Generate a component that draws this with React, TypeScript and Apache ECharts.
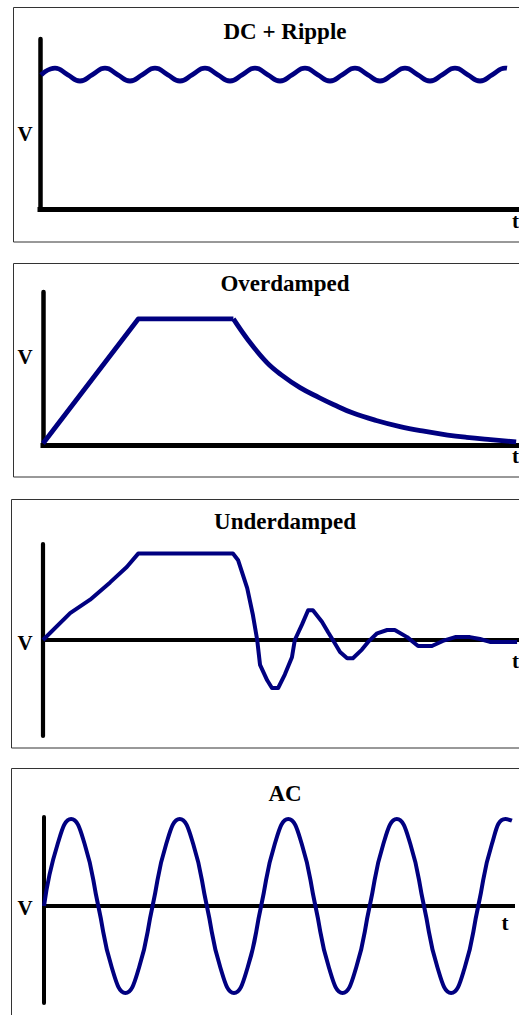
import React, { useEffect, useRef } from "react";
import * as echarts from "echarts";

// ---------- DATA ----------
const titles = ["DC + Ripple", "Overdamped", "Underdamped", "AC"];

// Panel 1: DC + ripple (time in ripple periods, V on 0..10)
const rippleT = [
  0.02, 0.3, 0.55, 0.8, 1.05, 1.3, 1.55, 1.8, 2.05, 2.3, 2.55, 2.8, 3.05, 3.3, 3.55, 3.8,
  4.05, 4.3, 4.55, 4.8, 5.05, 5.3, 5.55, 5.8, 6.05, 6.3, 6.55, 6.8, 7.05, 7.3, 7.55, 7.8,
  8.05, 8.3, 8.55, 8.8, 9.05, 9.3, 9.34,
];
const rippleV = [
  7.88, 8.29, 7.91, 7.53, 7.91, 8.29, 7.91, 7.53, 7.91, 8.29, 7.91, 7.53, 7.91, 8.29, 7.91, 7.53,
  7.91, 8.29, 7.91, 7.53, 7.91, 8.29, 7.91, 7.53, 7.91, 8.29, 7.91, 7.53, 7.91, 8.29, 7.91, 7.53,
  7.91, 8.29, 7.91, 7.53, 7.91, 8.29, 8.28,
];

// Panel 2: overdamped (time 0..100, V 0..10) — straight ramp + plateau, then decay
const overRampT = [0, 20, 40];
const overRampV = [0.1, 8.24, 8.24];
const overDecayT = [40, 43, 47, 50, 54, 58, 61, 65, 70, 75, 80, 85, 89, 94, 99.4];
const overDecayV = [8.24, 6.9, 5.4, 4.6, 3.75, 3.1, 2.65, 2.1, 1.6, 1.2, 0.9, 0.65, 0.5, 0.35, 0.2];

// Panel 3: underdamped (time 0..100, V -10..10)
const underT = [
  0, 5.7, 9.9, 14.1, 17.6, 20, 39.9, 41, 42.9, 44.1, 45, 45.6, 47.1, 48.1, 49.4, 50.8, 52.3,
  52.9, 54.4, 55.7, 56.7, 58.6, 59.9, 60.9, 62.4, 63.9, 65.1, 67, 68.3, 70.2, 72.3, 73.9,
  76.5, 78.8, 81.7, 84, 86.6, 89.7, 91.8, 93.9, 99.6,
];
const underV = [
  0, 2.8, 4.2, 6.0, 7.6, 9.0, 9.0, 8.3, 5.4, 2.6, 0, -2.6, -4.2, -5.0, -5.0, -3.6, -1.8,
  0, 1.6, 3.1, 3.1, 1.9, 0.8, 0, -1.25, -1.9, -1.9, -1.0, -0.2, 0.7, 1.04, 1.04,
  0.3, -0.63, -0.63, -0.1, 0.3, 0.3, 0.1, -0.2, -0.2,
];

// Panel 4: AC (time in periods, V in amplitudes)
const acT = [
  0, 0.125, 0.25, 0.375, 0.5, 0.625, 0.75, 0.875, 1, 1.125, 1.25, 1.375, 1.5, 1.625, 1.75, 1.875,
  2, 2.125, 2.25, 2.375, 2.5, 2.625, 2.75, 2.875, 3, 3.125, 3.25, 3.375, 3.5, 3.625, 3.75, 3.875,
  4, 4.125, 4.25, 4.31,
];
const acV = [
  0, 0.71, 1, 0.71, 0, -0.71, -1, -0.71, 0, 0.71, 1, 0.71, 0, -0.71, -1, -0.71,
  0, 0.71, 1, 0.71, 0, -0.71, -1, -0.71, 0, 0.71, 1, 0.71, 0, -0.71, -1, -0.71,
  0, 0.71, 1, 0.98,
];

const axisLabelV = "V";
const axisLabelT = "t";

// ---------- CHART ----------
const SERIF = "'Liberation Serif', 'Times New Roman', serif";
const NAVY = "#000080";

function zip(a: number[], b: number[]) {
  return a.map((v, i) => [v, b[i]]);
}

export default function App() {
  const ref = useRef<HTMLDivElement>(null);

  useEffect(() => {
    if (!ref.current) return;
    const chart = echarts.init(ref.current, undefined, { renderer: "svg" });

    const grids = [
      { left: 40, top: 39, width: 479, height: 170 },
      { left: 43, top: 292, width: 476, height: 153 },
      { left: 43, top: 544, width: 476, height: 192 },
      { left: 44, top: 817, width: 469, height: 186 },
    ];
    const xRanges = [
      [0, 9.58],
      [0, 100],
      [0, 100],
      [0, 4.32],
    ];
    const yRanges = [
      [0, 10],
      [0, 10],
      [-10, 10],
      [-1.115, 1.023],
    ];
    const xWidths = [5, 5, 4, 4];
    const yWidths = [4.5, 4.5, 4.2, 4];
    const lineWidths = [4.8, 4.8, 4, 4];

    const xAxis = grids.map((_, i) => ({
      type: "value",
      gridIndex: i,
      min: xRanges[i][0],
      max: xRanges[i][1],
      axisLine: { show: true, onZero: true, lineStyle: { color: "#000", width: xWidths[i], cap: "square" } },
      axisTick: { show: false },
      axisLabel: { show: false },
      splitLine: { show: false },
    }));
    const yAxis = grids.map((_, i) => ({
      type: "value",
      gridIndex: i,
      min: yRanges[i][0],
      max: yRanges[i][1],
      axisLine: { show: true, onZero: false, lineStyle: { color: "#000", width: yWidths[i] } },
      axisTick: { show: false },
      axisLabel: { show: false },
      splitLine: { show: false },
    }));

    const mk = (i: number, data: number[][], smooth: boolean | number) => ({
      type: "line",
      xAxisIndex: i,
      yAxisIndex: i,
      data,
      showSymbol: false,
      smooth,
      clip: false,
      lineStyle: { color: NAVY, width: lineWidths[i], join: "round" },
    });

    const series = [
      mk(0, zip(rippleT, rippleV), true),
      mk(1, zip(overRampT, overRampV), false),
      mk(1, zip(overDecayT, overDecayV), 0.4),
      mk(2, zip(underT, underV), false),
      mk(3, zip(acT, acV), true),
    ];

    const boxes = [
      { x: 13.5, y: 7.5, h: 234.5 },
      { x: 13.5, y: 263.5, h: 213.5 },
      { x: 11.5, y: 499.5, h: 248.5 },
      { x: 11.5, y: 768.5, h: 300 },
    ];
    const titleY = [31.5, 283, 521.5, 793.5];
    const vY = [133.5, 356.5, 642.5, 907.5];
    const tPos = [
      [515.5, 221],
      [515.5, 456],
      [515.5, 661],
      [505, 923],
    ];

    const graphic: any[] = [];
    boxes.forEach((b, i) => {
      graphic.push({
        type: "rect",
        shape: { x: b.x, y: b.y, width: 540, height: b.h },
        style: { fill: "none", stroke: "#333", lineWidth: 1 },
        z: -1,
      });
      graphic.push({
        type: "text",
        x: 285,
        y: titleY[i],
        style: {
          text: titles[i],
          font: `bold 23px ${SERIF}`,
          fill: "#000",
          align: "center",
          verticalAlign: "middle",
        },
      });
      graphic.push({
        type: "text",
        x: 25,
        y: vY[i],
        style: {
          text: axisLabelV,
          font: `bold 21px ${SERIF}`,
          fill: "#000",
          align: "center",
          verticalAlign: "middle",
        },
      });
      graphic.push({
        type: "text",
        x: tPos[i][0],
        y: tPos[i][1],
        style: {
          text: axisLabelT,
          font: `bold 21px ${SERIF}`,
          fill: "#000",
          align: "center",
          verticalAlign: "middle",
        },
      });
    });

    chart.setOption({
      animation: false,
      backgroundColor: "#fff",
      grid: grids,
      xAxis,
      yAxis,
      series,
      graphic,
    } as any);

    return () => chart.dispose();
  }, []);

  return (
    <div
      ref={ref}
      style={{ position: "absolute", left: 0, top: 0, width: 519, height: 1015 }}
    />
  );
}
